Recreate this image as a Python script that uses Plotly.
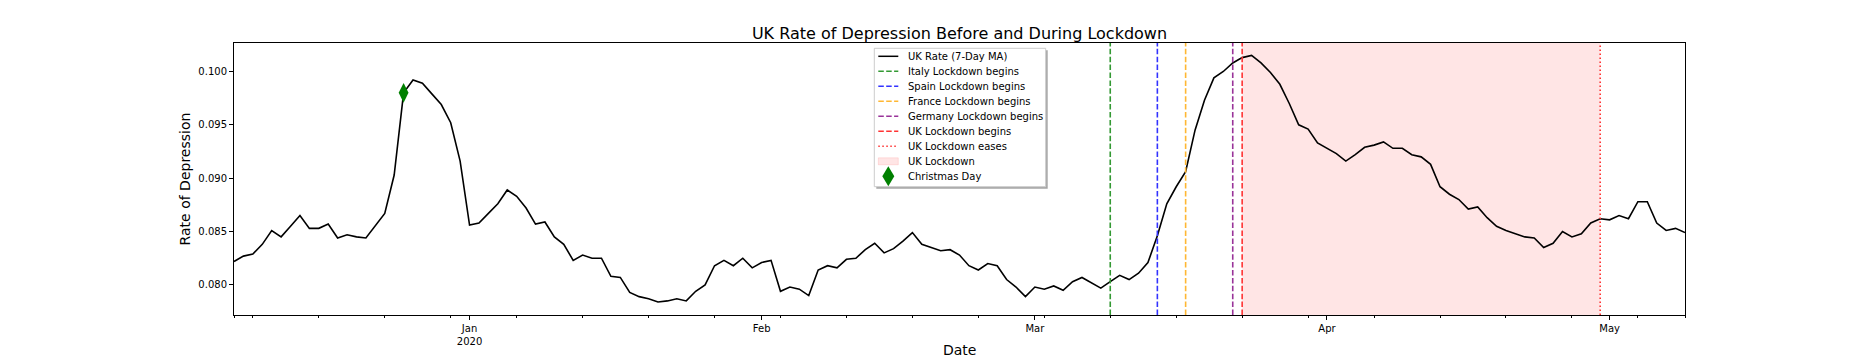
import plotly.graph_objects as go
import pandas as pd

# daily 7-day moving average, starting 2019-12-07
start_date = '2019-12-07'
uk_rate = [
    0.0822, 0.0827, 0.0829, 0.0838, 0.0851, 0.0845, 0.0855, 0.0865, 0.0853, 0.0853,
    0.0857, 0.0844, 0.0847, 0.0845, 0.0844, 0.0855, 0.0867, 0.0903, 0.0980, 0.0992,
    0.0989, 0.0979, 0.0969, 0.0952, 0.0916, 0.0856, 0.0858, 0.0867, 0.0876, 0.0889,
    0.0883, 0.0872, 0.0857, 0.0859, 0.0845, 0.0838, 0.0823, 0.0828, 0.0825, 0.0825,
    0.0808, 0.0807, 0.0793, 0.0789, 0.0787, 0.0784, 0.0785, 0.0787, 0.0785, 0.0794,
    0.0800, 0.0818, 0.0823, 0.0818, 0.0825, 0.0816, 0.0821, 0.0823, 0.0794, 0.0798,
    0.0796, 0.0790, 0.0814, 0.0818, 0.0816, 0.0824, 0.0825, 0.0833, 0.0839, 0.0830,
    0.0834, 0.0841, 0.0849, 0.0838, 0.0835, 0.0832, 0.0833, 0.0828, 0.0818, 0.0814,
    0.0820, 0.0818, 0.0805, 0.0798, 0.0789, 0.0798, 0.0796, 0.0799, 0.0795, 0.0803,
    0.0807, 0.0802, 0.0797, 0.0803, 0.0809, 0.0805, 0.0811, 0.0821, 0.0846, 0.0876,
    0.0892, 0.0906, 0.0945, 0.0973, 0.0994, 0.1000, 0.1008, 0.1013, 0.1015, 0.1008,
    0.0999, 0.0988, 0.0970, 0.0950, 0.0946, 0.0933, 0.0928, 0.0923, 0.0916, 0.0922,
    0.0929, 0.0931, 0.0934, 0.0928, 0.0928, 0.0922, 0.0920, 0.0913, 0.0892, 0.0885,
    0.0880, 0.0871, 0.0873, 0.0863, 0.0855, 0.0851, 0.0848, 0.0845, 0.0844, 0.0835,
    0.0839, 0.0850, 0.0845, 0.0848, 0.0858, 0.0862, 0.0861, 0.0865, 0.0862, 0.0878,
    0.0878, 0.0858, 0.0851, 0.0853, 0.0849,
]
series_label = 'UK Rate (7-Day MA)'

christmas_date = '2019-12-25'
christmas_label = 'Christmas Day'

event_labels = ['Italy Lockdown begins', 'Spain Lockdown begins', 'France Lockdown begins',
                'Germany Lockdown begins', 'UK Lockdown begins']
event_dates = ['2020-03-09', '2020-03-14', '2020-03-17', '2020-03-22', '2020-03-23']
event_colors = ['#339933', '#3333ff', '#ffb733', '#993399', '#ff3333']

ease_label = 'UK Lockdown eases'
ease_date = '2020-04-30'
span_label = 'UK Lockdown'

month_ticks = ['2020-01-01', '2020-02-01', '2020-03-01', '2020-04-01', '2020-05-01']
month_labels = ['Jan<br>2020', 'Feb', 'Mar', 'Apr', 'May']
y_ticks = [0.080, 0.085, 0.090, 0.095, 0.100]

FONT = 'DejaVu Sans'
DASH = '5.5px,2.4px'
DOT = '1.5px,2.5px'
SPAN_FILL = 'rgba(255,0,0,0.1)'

dates = pd.date_range(start_date, periods=len(uk_rate), freq='D')
x_end = dates[-1]
minor_ticks = [dates[0]] + list(pd.date_range(dates[0], x_end, freq='W-MON')) + [x_end]

# the page body has an 8px margin, so the figure is drawn 8px smaller and offset
PAGE = 8
W, H = 1872 - PAGE, 360 - PAGE
# plot box in figure pixels
L, R, T, B = 234 - PAGE, 1685 - PAGE, 43 - PAGE, 315 - PAGE


def fx(p):
    return (p - PAGE - L) / (R - L)


def fy(p):
    return (B - (p - PAGE)) / (B - T)


fig = go.Figure()
fig.add_vrect(x0=event_dates[-1], x1=ease_date, fillcolor=SPAN_FILL, line_width=0, layer='below')

fig.add_trace(go.Scatter(
    x=dates, y=uk_rate, mode='lines', line=dict(color='black', width=1.6),
    showlegend=False, hoverinfo='skip',
))
xmas_val = uk_rate[list(dates).index(pd.Timestamp(christmas_date))]
fig.add_trace(go.Scatter(
    x=[christmas_date], y=[xmas_val], mode='markers',
    marker=dict(symbol='diamond-tall', size=14, color='green', line=dict(width=0)),
    showlegend=False, hoverinfo='skip',
))

for d, c in zip(event_dates, event_colors):
    fig.add_shape(type='line', xref='x', yref='paper', x0=d, x1=d, y0=0, y1=1,
                  line=dict(color=c, width=1.6, dash=DASH))
fig.add_shape(type='line', xref='x', yref='paper', x0=ease_date, x1=ease_date, y0=0, y1=1,
              line=dict(color='#ff3333', width=1.6, dash=DOT))

# legend drawn by hand, matplotlib style (upper center, shadow); screen pixels
lx0, lx1, ly0, ly1 = 874.3, 1045.7, 48.3, 186.7
row0, step = 56.3, 15.0
hx0, hx1, tx = 878.3, 898.3, 906.3

fig.add_shape(type='rect', xref='paper', yref='paper', layer='above',
              x0=fx(lx0 + 2), x1=fx(lx1 + 2), y0=fy(ly1 + 2), y1=fy(ly0 + 2),
              fillcolor='rgba(77,77,77,0.5)', line_width=0)
fig.add_shape(type='rect', xref='paper', yref='paper', layer='above',
              x0=fx(lx0), x1=fx(lx1), y0=fy(ly1), y1=fy(ly0),
              fillcolor='white', line=dict(color='#cccccc', width=1))

rows = [(series_label, 'line', 'black', 'solid')]
rows += [(lab, 'line', c, DASH) for lab, c in zip(event_labels, event_colors)]
rows += [(ease_label, 'line', '#ff3333', DOT), (span_label, 'patch', SPAN_FILL, None),
         (christmas_label, 'diamond', 'green', None)]

for k, (lab, kind, col, dash) in enumerate(rows):
    yc = row0 + k * step
    if kind == 'line':
        fig.add_shape(type='line', xref='paper', yref='paper', layer='above',
                      x0=fx(hx0), x1=fx(hx1), y0=fy(yc), y1=fy(yc),
                      line=dict(color=col, width=1.5, dash=dash))
    elif kind == 'patch':
        fig.add_shape(type='rect', xref='paper', yref='paper', layer='above',
                      x0=fx(hx0), x1=fx(hx1), y0=fy(yc + 3.5), y1=fy(yc - 3.5),
                      fillcolor=col, line=dict(color=col, width=1))
    else:
        xc = (hx0 + hx1) / 2
        path = 'M {} {} L {} {} L {} {} L {} {} Z'.format(
            fx(xc), fy(yc - 10), fx(xc + 6), fy(yc), fx(xc), fy(yc + 10), fx(xc - 6), fy(yc))
        fig.add_shape(type='path', xref='paper', yref='paper', layer='above', path=path,
                      fillcolor=col, line_width=0)
    fig.add_annotation(x=fx(tx), y=fy(yc), xref='paper', yref='paper', text=lab,
                       showarrow=False, xanchor='left', yanchor='middle',
                       font=dict(family=FONT, size=10, color='black'))

# x-axis title as an annotation: plotly keeps the axis title inside the bottom margin
fig.add_annotation(x=0.5, y=fy(350), xref='paper', yref='paper', text='Date',
                   showarrow=False, xanchor='center', yanchor='middle',
                   font=dict(family=FONT, size=14, color='black'))

fig.update_layout(
    width=W, height=H,
    paper_bgcolor='white', plot_bgcolor='white',
    margin=dict(l=L, r=W - R, t=T, b=H - B),
    font=dict(family=FONT, color='black', size=10),
    showlegend=False,
    title=dict(text='UK Rate of Depression Before and During Lockdown',
               font=dict(family=FONT, size=16, color='black'),
               x=0.5, xref='paper', xanchor='center',
               y=1 - (33 - PAGE) / H, yref='container', yanchor='middle'),
    xaxis=dict(
        type='date', range=[dates[0], x_end], showgrid=False, zeroline=False,
        showline=True, linecolor='black', linewidth=1, mirror=True,
        tickmode='array', tickvals=month_ticks, ticktext=month_labels,
        ticks='outside', ticklen=4, tickwidth=1, tickcolor='black',
        tickfont=dict(family=FONT, size=10, color='black'),
        minor=dict(tickmode='array', tickvals=minor_ticks, ticks='outside',
                   ticklen=2, tickwidth=1, tickcolor='black', showgrid=False),
        automargin=False,
    ),
    yaxis=dict(
        range=[0.07718, 0.10267], showgrid=False, zeroline=False,
        showline=True, linecolor='black', linewidth=1, mirror=True,
        tickmode='array', tickvals=y_ticks, tickformat='.3f',
        ticks='outside', ticklen=4, tickwidth=1, tickcolor='black',
        tickfont=dict(family=FONT, size=10, color='black'),
        title=dict(text='Rate of Depression', font=dict(family=FONT, size=14, color='black'),
                   standoff=4),
        automargin=False,
    ),
)

fig.write_html('out.html')
